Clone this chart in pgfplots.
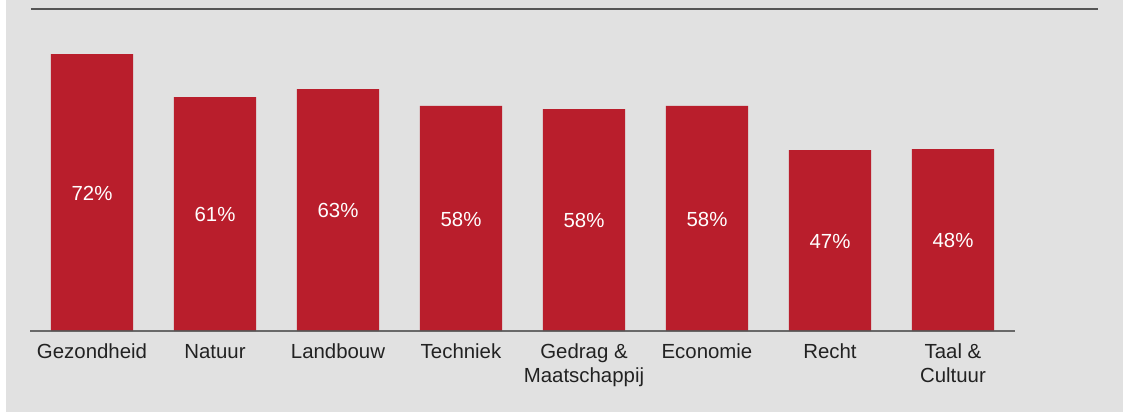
\documentclass[border=0pt]{standalone}
\usepackage{pgfplots}
\pgfplotsset{compat=1.18}
\usepackage{pgfplotstable}
\usepackage{fontspec}
\setmainfont{Liberation Sans}
\definecolor{bgc}{HTML}{E1E1E1}
\definecolor{barred}{HTML}{B91E2C}
\definecolor{txt}{HTML}{222222}
\definecolor{linec}{HTML}{555555}

\pgfplotstableread{
x y lab
0 72.0 72
1 60.8 61
2 62.9 63
3 58.5 58
4 57.7 58
5 58.5 58
6 47.0 47
7 47.3 48
}\datatable

\begin{document}
\begin{tikzpicture}
\fill[white] (0,0) rectangle (842.25pt,309pt);
\fill[bgc] (4.5pt,0) rectangle (842.25pt,309pt);
\begin{axis}[
  at={(23.25pt,60.75pt)}, anchor=south west,
  scale only axis,
  width=800.25pt, height=241.5pt,
  xmin=-0.496, xmax=8.179,
  ymin=0, ymax=83.7,
  axis line style={draw=none},
  major tick length=0pt,
  ytick=\empty,
  xtick={0,...,7},
  xticklabels={Gezondheid, Natuur, Landbouw, Techniek, {Gedrag \&\\Maatschappij}, Economie, Recht, {Taal \&\\Cultuur}},
  typeset ticklabels with strut,
  xticklabel style={align=center, font={\fontsize{15.3}{18.2}\selectfont}, text=txt, yshift=-4.3pt},
  ybar, bar width=0.667,
  clip=false,
]
\addplot[fill=barred, draw=none,
  point meta=explicit symbolic,
  visualization depends on={\thisrow{y} \as \rawy},
  nodes near coords={\pgfplotspointmeta\%},
  every node near coord/.append style={anchor=center, text=white, font={\fontsize{15.3}{18}\selectfont}, yshift=-\rawy*1.4427pt-0.6pt},
] table[x=x, y=y, meta=lab] {\datatable};
\draw[linec, line width=1.5pt, opacity=0.85] (axis cs:-0.504,0) -- (axis cs:7.504,0);
\draw[linec, line width=1.5pt] (rel axis cs:0,1) -- (rel axis cs:1,1);
\end{axis}
\pgfresetboundingbox
\useasboundingbox (0,0) rectangle (842.25pt,309pt);
\end{tikzpicture}
\end{document}
